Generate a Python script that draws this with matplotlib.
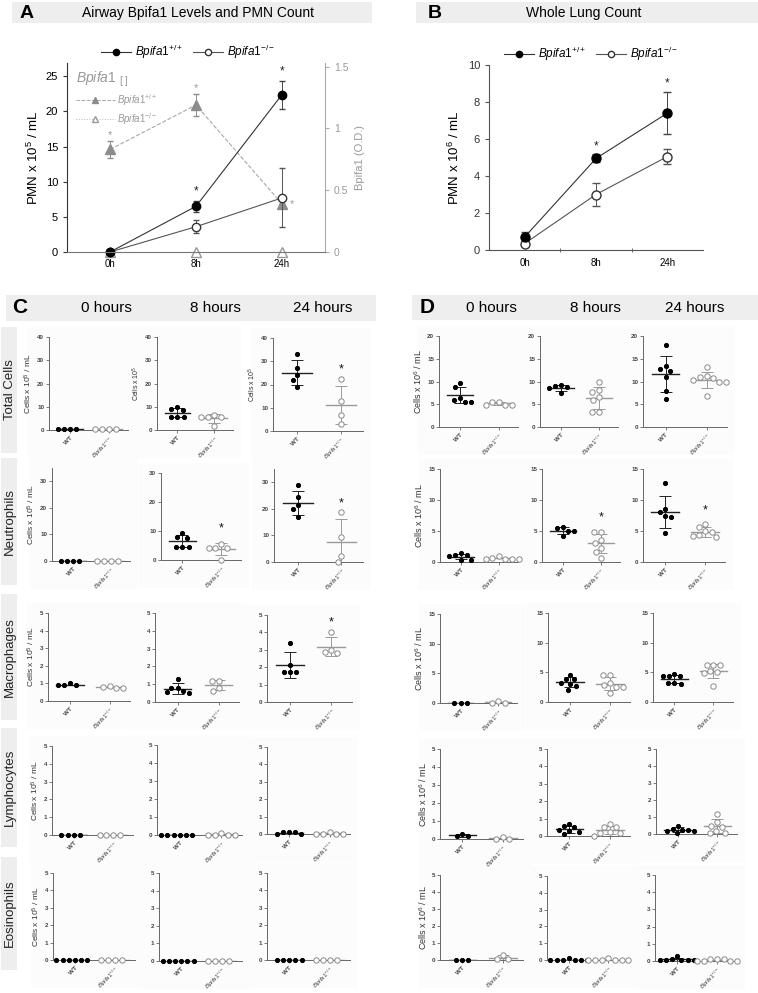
import numpy as np
import matplotlib.pyplot as plt
from matplotlib.lines import Line2D
from matplotlib.patches import Rectangle

plt.rcParams['font.family'] = ['Liberation Sans', 'DejaVu Sans']
plt.rcParams['mathtext.fontset'] = 'custom'
plt.rcParams['mathtext.rm'] = 'Liberation Sans'
plt.rcParams['mathtext.it'] = 'Liberation Sans:italic'
plt.rcParams['mathtext.bf'] = 'Liberation Sans:bold'

W, H = 758, 993

# ---------------- data ----------------
times = ['0h', '8h', '24h']
hours = ['0 hours', '8 hours', '24 hours']
cell_types = ['Total Cells', 'Neutrophils', 'Macrophages', 'Lymphocytes', 'Eosinophils']

# A: airway PMN (x10^5 / mL) and Bpifa1 (O.D.)
a_pmn_wt = [0, 6.5, 22.4]
a_pmn_wt_err = [0, 0.8, 2.0]
a_pmn_ko = [0, 3.6, 7.7]
a_pmn_ko_err = [0, 0.9, 4.2]
a_pmn_sig = [False, True, True]
a_od_wt = [0.83, 1.19, 0.39]
a_od_wt_err = [0.07, 0.09, 0.0]
a_od_ko = [0, 0, 0]
a_od_sig = [True, True, True]

# B: whole lung PMN (x10^6 / mL)
b_pmn_wt = [0.7, 4.95, 7.4]
b_pmn_wt_err = [0.25, 0.22, 1.15]
b_pmn_ko = [0.35, 3.0, 5.05]
b_pmn_ko_err = [0.0, 0.6, 0.4]
b_pmn_sig = [False, True, True]

# C: airway cells (x10^5 / mL), per time point [0h, 8h, 24h]
c_total_wt = [[0.4, 0.3, 0.4, 0.5], [8.6, 9.0, 9.8, 5.6, 5.6, 5.6], [33, 27, 24.2, 22.1, 18.9]]
c_total_ko = [[0.4, 0.3, 0.3, 0.4], [6.6, 5.6, 5.4, 5.6, 1.6], [22.2, 12.8, 6.7, 3.2]]
c_total_sig = [False, False, True]
c_neut_wt = [[0, 0, 0, 0], [9.2, 8.0, 7.7, 4.6, 4.6, 4.6], [28.8, 24.6, 21.3, 19.8, 16.9]]
c_neut_ko = [[0, 0, 0, 0], [5.4, 4.3, 4.3, 4.3, 0], [18.8, 9.4, 2.3, 0]]
c_neut_sig = [False, True, True]
c_mac_wt = [[0.9, 0.9, 0.9, 1.0], [1.3, 0.8, 0.8, 0.5, 0.55, 0.6], [3.4, 2.1, 1.7, 1.7, 1.7]]
c_mac_ko = [[0.8, 0.75, 0.75, 0.88], [1.2, 1.2, 0.8, 0.6], [4.0, 3.0, 2.9, 2.8]]
c_mac_sig = [False, False, True]
c_lym_wt = [[0, 0, 0, 0], [0, 0, 0, 0, 0, 0], [0.1, 0.1, 0.0, 0.0, 0.1]]
c_lym_ko = [[0, 0, 0, 0], [0.02, 0.02, 0.02, 0.02, 0.13], [0.02, 0.02, 0.02, 0.02, 0.13]]
c_lym_sig = [False, False, False]
c_eos_wt = [[0, 0, 0, 0, 0, 0], [0, 0, 0, 0, 0, 0], [0, 0, 0, 0, 0]]
c_eos_ko = [[0, 0, 0, 0], [0.02, 0.02, 0.02, 0.02], [0.02, 0.02, 0.02, 0.02]]
c_eos_sig = [False, False, False]

# D: whole lung cells (x10^6 / mL)
d_total_wt = [[9.6, 8.8, 6.0, 5.5, 5.5, 6.4], [8.9, 9.2, 9.0, 8.5, 7.4], [18.1, 13.4, 12.7, 12.4, 10.9, 8.0, 6.2]]
d_total_ko = [[5.6, 4.9, 4.9, 4.9, 5.6], [9.8, 8.2, 7.8, 6.7, 6.0, 3.4, 3.4], [13.1, 11.2, 10.9, 10.7, 10.4, 10.0, 9.8, 6.9]]
d_total_sig = [False, False, False]
d_neut_wt = [[1.1, 1.4, 1.0, 0.35, 0.35, 1.1], [5.6, 5.5, 5.0, 5.0, 4.2], [12.7, 8.5, 8.0, 7.5, 7.3, 4.7]]
d_neut_ko = [[0.9, 0.55, 0.5, 0.5, 0.5, 0.6], [4.9, 4.8, 3.6, 3.0, 2.3, 1.6, 0.7], [6.2, 5.7, 5.0, 4.8, 4.4, 4.2, 4.0]]
d_neut_sig = [False, True, True]
d_mac_wt = [[0.05, 0.05, 0.05], [4.6, 3.8, 3.8, 3.2, 3.0, 2.7, 2.0], [4.8, 4.4, 4.3, 4.4, 3.2, 3.1, 3.2]]
d_mac_ko = [[0.3, 0.05, 0.05], [4.6, 4.6, 3.2, 2.6, 2.5, 1.5, 2.8], [6.2, 6.2, 6.2, 5.2, 5.1, 4.9, 2.7]]
d_mac_sig = [False, False, False]
d_lym_wt = [[0.3, 0.17, 0.17], [0.7, 0.55, 0.5, 0.35, 0.3, 0.25, 0.1], [0.5, 0.3, 0.25, 0.2, 0.25, 0.15, 0.05]]
d_lym_ko = [[0.1, 0.02, 0.02], [0.7, 0.5, 0.5, 0.25, 0.2, 0.2, 0.0], [1.2, 0.7, 0.5, 0.4, 0.2, 0.05, 0.05]]
d_lym_sig = [False, False, False]
d_eos_wt = [[0, 0, 0], [0.1, 0, 0, 0, 0, 0, 0], [0.3, 0.05, 0.05, 0.05, 0.05, 0.05, 0.1]]
d_eos_ko = [[0.3, 0.05, 0.05], [0.1, 0, 0, 0, 0, 0, 0], [0.1, 0.1, 0.02, 0.02, 0.02, 0.02, 0.1]]
d_eos_sig = [False, False, False]

c_rows = [(c_total_wt, c_total_ko, c_total_sig), (c_neut_wt, c_neut_ko, c_neut_sig),
          (c_mac_wt, c_mac_ko, c_mac_sig), (c_lym_wt, c_lym_ko, c_lym_sig),
          (c_eos_wt, c_eos_ko, c_eos_sig)]
d_rows = [(d_total_wt, d_total_ko, d_total_sig), (d_neut_wt, d_neut_ko, d_neut_sig),
          (d_mac_wt, d_mac_ko, d_mac_sig), (d_lym_wt, d_lym_ko, d_lym_sig),
          (d_eos_wt, d_eos_ko, d_eos_sig)]

WT_LBL = r'$\mathit{Bpifa1}^{\mathit{+/+}}$'
KO_LBL = r'$\mathit{Bpifa1}^{\mathit{-/-}}$'

# ---------------- layout (pixels) ----------------
c_boxes = [
    [(49, 128, 337, 430), (157, 233, 337, 430), (273, 363, 338, 431)],
    [(52, 130, 468, 561), (161, 241, 473, 560), (274, 363, 469, 562)],
    [(48, 130, 613, 701), (155, 239, 613, 702), (267, 352, 615, 702)],
    [(52, 133, 746, 835), (157, 242, 745, 835), (267, 350, 747, 834)],
    [(53, 135, 873, 960), (159, 242, 873, 961), (267, 350, 873, 960)],
]
c_ymax = [[40, 40, 40], [35, 30, 35], [5, 5, 5], [5, 5, 5], [5, 5, 5]]
c_step = [10, 10, 1, 1, 1]
c_rowlbl = [(327, 453), (458, 585), (594, 720), (728, 847), (857, 970)]

d_boxes = [
    [(439, 518, 336, 427), (540, 618, 336, 427), (643, 727, 336, 427)],
    [(440, 518, 469, 562), (542, 620, 469, 562), (643, 725, 469, 562)],
    [(440, 517, 614, 703), (548, 630, 613, 702), (653, 733, 613, 702)],
    [(440, 523, 749, 839), (547, 630, 749, 836), (656, 737, 749, 834)],
    [(440, 523, 875, 960), (547, 628, 876, 960), (655, 737, 875, 961)],
]
d_ymax = [[20] * 3, [15] * 3, [15] * 3, [5] * 3, [5] * 3]
d_step = [5, 5, 5, 1, 1]

XLIM = (-0.55, 1.5)

fig = plt.figure(figsize=(W / 100, H / 100), dpi=100)


def px_axes(x0, x1, ytop, ybot):
    return fig.add_axes([x0 / W, 1 - ybot / H, (x1 - x0) / W, (ybot - ytop) / H])


def fig_rect(x0, y0, x1, y1, color):
    fig.add_artist(Rectangle((x0 / W, 1 - y1 / H), (x1 - x0) / W, (y1 - y0) / H,
                             transform=fig.transFigure, facecolor=color,
                             edgecolor='none', zorder=0))


def fig_text(x, y, s, **kw):
    fig.text(x / W, 1 - y / H, s, **kw)


def swarm(vals, px_per_x, px_per_y, d=5.0):
    # beeswarm: place each point as close to centre as possible without overlap
    vals = np.asarray(vals, float)
    ypx = vals * px_per_y
    placed = []
    xs = np.zeros(len(vals))
    for i in np.argsort(-vals, kind='stable'):
        blocked = []
        for xp, yp in placed:
            dy = abs(ypx[i] - yp)
            if dy < d:
                h = np.sqrt(d * d - dy * dy)
                blocked.append((xp - h, xp + h))
        cands = [0.0] + [e for b in blocked for e in b]
        cands.sort(key=lambda c: (abs(c), c))
        for c in cands:
            if all(not (lo + 1e-6 < c < hi - 1e-6) for lo, hi in blocked):
                xs[i] = c
                break
        placed.append((xs[i], ypx[i]))
    return xs / px_per_x


def dot_panel(box, ymax, ystep, wt, ko, sig, ylabel=None, ylfs=6):
    x0, x1, ytop, ybot = box
    fig_rect(x0 - 22, ytop - 10, x1 + 8, ybot + 28, '#fcfcfc')
    ax = px_axes(x0, x1, ytop, ybot)
    ax.patch.set_alpha(0)
    px_x = (x1 - x0) / (XLIM[1] - XLIM[0])
    px_y = (ybot - ytop) / ymax
    groups = [(wt, 'black', 'black', '#222222', 9, 6.2),
              (ko, 'white', '#8a8a8a', '#9a9a9a', 15, 6.8)]
    for g, (vals, fc, ec, lc, s, dd) in enumerate(groups):
        vals = np.asarray(vals, float)
        m = vals.mean()
        sd = vals.std(ddof=1)
        ax.plot([g - 0.34, g + 0.34], [m, m], color=lc, lw=1.0, zorder=2)
        if sd > 0.015 * ymax:
            ax.errorbar(g, m, yerr=sd, fmt='none', ecolor=lc, elinewidth=0.7,
                        capsize=4, capthick=0.7, zorder=2)
        ax.scatter(g + swarm(vals, px_x, px_y, dd), vals, s=s, facecolors=fc, edgecolors=ec,
                   linewidths=0.7, zorder=3, clip_on=False)
    if sig:
        ko_arr = np.asarray(ko, float)
        ax.text(1, ko_arr.mean() + ko_arr.std(ddof=1) + 0.17 * ymax, '*',
                ha='center', va='center', fontsize=9, color='#111')
    ax.set_xlim(*XLIM)
    ax.set_ylim(0, ymax)
    ax.set_yticks(np.arange(0, ymax + 0.01, ystep))
    ax.set_xticks([0, 1])
    ax.set_xticklabels(['WT', r'$\mathit{Bpifa1}^{-/-}$'], rotation=45, ha='right',
                       rotation_mode='anchor', fontsize=4.5, color='#444', weight='bold')
    for sp in ['top', 'right']:
        ax.spines[sp].set_visible(False)
    for sp in ['left', 'bottom']:
        ax.spines[sp].set_color('#666')
        ax.spines[sp].set_linewidth(0.7)
    ax.tick_params(length=2, width=0.6, color='#666', labelsize=4.5, labelcolor='#444', pad=1.5)
    for t in ax.get_yticklabels():
        t.set_fontweight('bold')
    if ylabel:
        ax.set_ylabel(ylabel, fontsize=ylfs, color='#333', labelpad=2)
    return ax


# ---------------- headers ----------------
fig_rect(12, 2, 372, 23, '#eeeeee')
fig_text(27, 13, 'A', weight='bold', fontsize=14, ha='center', va='center')
fig_text(198, 13, 'Airway Bpifa1 Levels and PMN Count', fontsize=10, ha='center', va='center')
fig_rect(416, 2, 758, 23, '#eeeeee')
fig_text(435, 13, 'B', weight='bold', fontsize=14, ha='center', va='center')
fig_text(584, 13, 'Whole Lung Count', fontsize=10, ha='center', va='center')

fig_rect(6, 295, 376, 321, '#eeeeee')
fig_text(20, 308, 'C', weight='bold', fontsize=15, ha='center', va='center')
for xh, h in zip([106, 215, 323], hours):
    fig_text(xh, 308, h, fontsize=11, ha='center', va='center')
fig_rect(412, 295, 758, 320, '#eeeeee')
fig_text(427, 308, 'D', weight='bold', fontsize=15, ha='center', va='center')
for xh, h in zip([491, 595, 695], hours):
    fig_text(xh, 308, h, fontsize=11, ha='center', va='center')

for (y0, y1), name in zip(c_rowlbl, cell_types):
    fig_rect(1, y0, 17, y1, '#eeeeee')
    fig_text(10, (y0 + y1) / 2, name, rotation=90, fontsize=9.5, ha='center', va='center',
             color='#222')

# ---------------- panel A ----------------
xa = np.arange(len(times))
axA = px_axes(67, 325, 63, 252)
axA2 = axA.twinx()
axA.set_zorder(axA2.get_zorder() + 1)
axA.patch.set_visible(False)

axA2.errorbar(xa, a_od_wt, yerr=a_od_wt_err, fmt='--^', color='#a8a8a8', mfc='#8c8c8c',
              mec='#8c8c8c', ms=6.5, lw=0.8, ecolor='#8c8c8c', elinewidth=0.7, capsize=2.5,
              clip_on=False)
axA2.plot(xa, a_od_ko, ':^', color='#bbbbbb', mfc='white', mec='#999999', ms=6.5, lw=0.8,
          clip_on=False)
for i, (v, e, s) in enumerate(zip(a_od_wt, a_od_wt_err, a_od_sig)):
    if s and e > 0:
        axA2.text(i, v + e + 0.05, '*', ha='center', va='center', fontsize=8, color='#999')
    elif s:
        axA2.text(i + 0.12, v, '*', ha='center', va='center', fontsize=8, color='#999')

axA.errorbar(xa, a_pmn_ko, yerr=a_pmn_ko_err, fmt='-o', color='#555', mfc='white', mec='#333',
             ms=6, lw=0.8, ecolor='#555', elinewidth=0.7, capsize=2.5, clip_on=False)
axA.errorbar(xa, a_pmn_wt, yerr=a_pmn_wt_err, fmt='-o', color='#333', mfc='black', mec='black',
             ms=6, lw=0.8, ecolor='#444', elinewidth=0.7, capsize=2.5, clip_on=False)
for i, (v, e, s) in enumerate(zip(a_pmn_wt, a_pmn_wt_err, a_pmn_sig)):
    if s:
        axA.text(i, v + e + 1.3, '*', ha='center', va='center', fontsize=8.5, color='#222')

axA.set_xlim(-0.5, 2.5)
axA.set_ylim(0, 26.9)
axA2.set_ylim(0, 1.53)
axA.set_xticks(xa)
axA.set_xticklabels(times)
axA.set_yticks(np.arange(0, 26, 5))
axA2.set_yticks([0, 0.5, 1, 1.5])
axA2.set_yticklabels(['0', '0.5', '1', '1.5'])
for a in (axA, axA2):
    a.spines['top'].set_visible(False)
axA.spines['right'].set_visible(False)
axA.spines['left'].set_color('#333')
axA.spines['bottom'].set_color('#777')
axA2.spines['left'].set_visible(False)
axA2.spines['bottom'].set_visible(False)
axA2.spines['right'].set_color('#aaaaaa')
axA.tick_params(axis='y', length=3, labelsize=8, color='#333')
axA.tick_params(axis='x', length=0, labelsize=7, pad=5)
axA2.tick_params(axis='y', length=3, labelsize=7.5, color='#aaaaaa', labelcolor='#999999')
axA.set_ylabel('PMN x 10$^5$ / mL', fontsize=9.5, labelpad=3)
axA2.set_ylabel('Bpifa1 (O.D.)', fontsize=8, color='#999999', labelpad=5)

legA = [Line2D([], [], color='#333', marker='o', mfc='black', mec='black', ms=4.5, lw=0.8),
        Line2D([], [], color='#555', marker='o', mfc='white', mec='#333', ms=4.5, lw=0.8)]
fig.legend(legA, [WT_LBL, KO_LBL], loc='center', bbox_to_anchor=(188 / W, 1 - 52 / H), ncol=2,
           frameon=False, fontsize=8.5, handlelength=2.6, columnspacing=0.8, handletextpad=0.3)
legA2 = [Line2D([], [], color='#a8a8a8', ls='--', marker='^', mfc='#8c8c8c', mec='#8c8c8c',
                ms=4.5, lw=0.7),
         Line2D([], [], color='#bbbbbb', ls=':', marker='^', mfc='white', mec='#999999',
                ms=4.5, lw=0.7)]
lg = axA.legend(legA2, [WT_LBL, KO_LBL], loc='upper left', bbox_to_anchor=(0.0, 1.01),
                frameon=False, fontsize=7, labelcolor='#999999', handlelength=4,
                handletextpad=0.2, labelspacing=0.3, alignment='left',
                title=r'$\mathit{Bpifa1}$ $_{[\ ]}$', title_fontsize=10)
lg.get_title().set_color('#999999')

# ---------------- panel B ----------------
axB = px_axes(489, 703, 65, 250)
axB.errorbar(xa, b_pmn_ko, yerr=b_pmn_ko_err, fmt='-o', color='#555', mfc='white', mec='#333',
             ms=6.5, lw=0.8, ecolor='#555', elinewidth=0.7, capsize=3, clip_on=False)
axB.errorbar(xa, b_pmn_wt, yerr=b_pmn_wt_err, fmt='-o', color='#333', mfc='black', mec='black',
             ms=6.5, lw=0.8, ecolor='#444', elinewidth=0.7, capsize=3, clip_on=False)
for i, (v, e, s) in enumerate(zip(b_pmn_wt, b_pmn_wt_err, b_pmn_sig)):
    if s:
        axB.text(i, v + e + 0.45, '*', ha='center', va='center', fontsize=8.5, color='#222')
axB.set_xlim(-0.5, 2.5)
axB.set_ylim(0, 10)
axB.set_xticks(xa)
axB.set_xticklabels(times)
axB.set_xticks([0.5, 1.5], minor=True)
axB.set_yticks(np.arange(0, 11, 2))
for sp in ['top', 'right']:
    axB.spines[sp].set_visible(False)
axB.spines['left'].set_color('#555')
axB.spines['bottom'].set_color('#555')
axB.tick_params(axis='y', length=3, labelsize=8, color='#555', labelcolor='#333')
axB.tick_params(axis='x', which='major', length=0, labelsize=7, pad=6)
axB.tick_params(axis='x', which='minor', length=3, color='#555', direction='inout')
axB.set_ylabel('PMN x 10$^6$ / mL', fontsize=9.5, labelpad=4)
fig.legend(legA, [WT_LBL, KO_LBL], loc='center', bbox_to_anchor=(591 / W, 1 - 54 / H), ncol=2,
           frameon=False, fontsize=8.5, handlelength=2.6, columnspacing=0.8, handletextpad=0.3)

# ---------------- panels C and D ----------------
for r, (wt, ko, sig) in enumerate(c_rows):
    for c in range(3):
        if c == 0:
            yl, fs = 'Cells x 10$^5$ / mL', 6
        elif r == 0:
            yl, fs = 'Cells x 10$^5$', 5
        else:
            yl, fs = None, 6
        dot_panel(c_boxes[r][c], c_ymax[r][c], c_step[r], wt[c], ko[c], sig[c], yl, fs)

for r, (wt, ko, sig) in enumerate(d_rows):
    for c in range(3):
        yl = 'Cells x 10$^6$ / mL' if c == 0 else None
        dot_panel(d_boxes[r][c], d_ymax[r][c], d_step[r], wt[c], ko[c], sig[c], yl, 6.5)

fig.savefig('out.png', dpi=100)
